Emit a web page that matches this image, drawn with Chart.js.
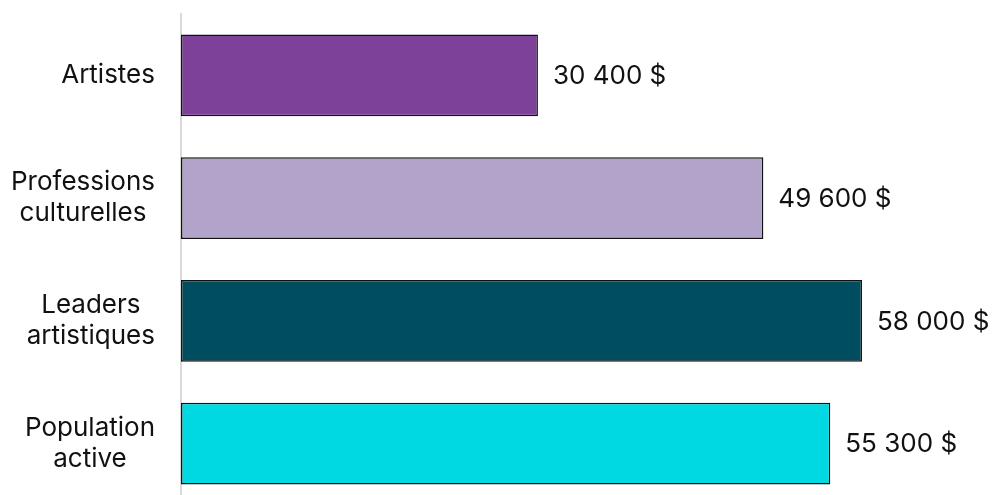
<!DOCTYPE html>
<html><head><meta charset="utf-8">
<script src="https://cdn.jsdelivr.net/npm/chart.js@4/dist/chart.umd.min.js"></script>
<style>
html,body{margin:0;padding:0;background:#fff;overflow:hidden;}
#wrap{width:997px;height:495px;overflow:hidden;position:relative;}
#c{display:block;}
</style></head>
<body><div id="wrap"><canvas id="c" width="997" height="505"></canvas></div>
<script>
const categories = [["Artistes"], ["Professions", "culturelles"], ["Leaders", "artistiques"], ["Population", "active"]];
const values = [30400, 49600, 58000, 55300];
const valueLabels = ["30 400 $", "49 600 $", "58 000 $", "55 300 $"];
const colors = ["#7E4199", "#B1A3C9", "#004D5F", "#00D9E1"];
const FONT = "Inter, 'Liberation Sans', sans-serif";

const labelPlugin = {
  id: 'labels',
  afterDatasetsDraw(chart) {
    const ctx = chart.ctx;
    const meta = chart.getDatasetMeta(0);
    const yScale = chart.scales.y;
    ctx.save();
    ctx.font = "26px " + FONT;
    ctx.fillStyle = "#111";
    ctx.textBaseline = "middle";
    // value labels
    ctx.textAlign = "left";
    meta.data.forEach((bar, i) => {
      ctx.fillText(valueLabels[i], bar.x + 15, bar.y + 1);
    });
    // category labels: block right-aligned, lines centered within block
    ctx.textAlign = "center";
    const right = yScale.right - 26;
    const lh = 31;
    chart.data.labels.forEach((lines, i) => {
      const y = yScale.getPixelForTick(i);
      const maxW = Math.max(...lines.map(l => ctx.measureText(l).width));
      const cx = right - maxW / 2;
      const y0 = y - (lines.length - 1) * lh / 2;
      lines.forEach((l, j) => ctx.fillText(l, cx, y0 + j * lh));
    });
    ctx.restore();
  }
};

new Chart(document.getElementById('c'), {
  type: 'bar',
  data: {
    labels: categories,
    datasets: [{
      data: values,
      backgroundColor: colors,
      borderColor: "#111",
      borderWidth: 1.5,
      borderSkipped: false,
      categoryPercentage: 1,
      barPercentage: 0.668
    }]
  },
  options: {
    indexAxis: 'y',
    responsive: false,
    animation: false,
    layout: { padding: { top: 14, right: 0, bottom: 0, left: 0 } },
    plugins: { legend: { display: false }, tooltip: { enabled: false } },
    scales: {
      x: { display: false, min: 0, max: 69500 },
      y: {
        grid: { display: false, drawTicks: false },
        border: { display: true, color: "#d9d9d9", width: 2 },
        ticks: { color: "rgba(0,0,0,0)", font: { family: FONT, size: 26, lineHeight: 1.15 }, padding: 24 },
        afterFit(scale) { scale.width = 181; scale.paddingTop = 0; scale.paddingBottom = 0; }
      }
    }
  },
  plugins: [labelPlugin]
});
</script></body></html>
